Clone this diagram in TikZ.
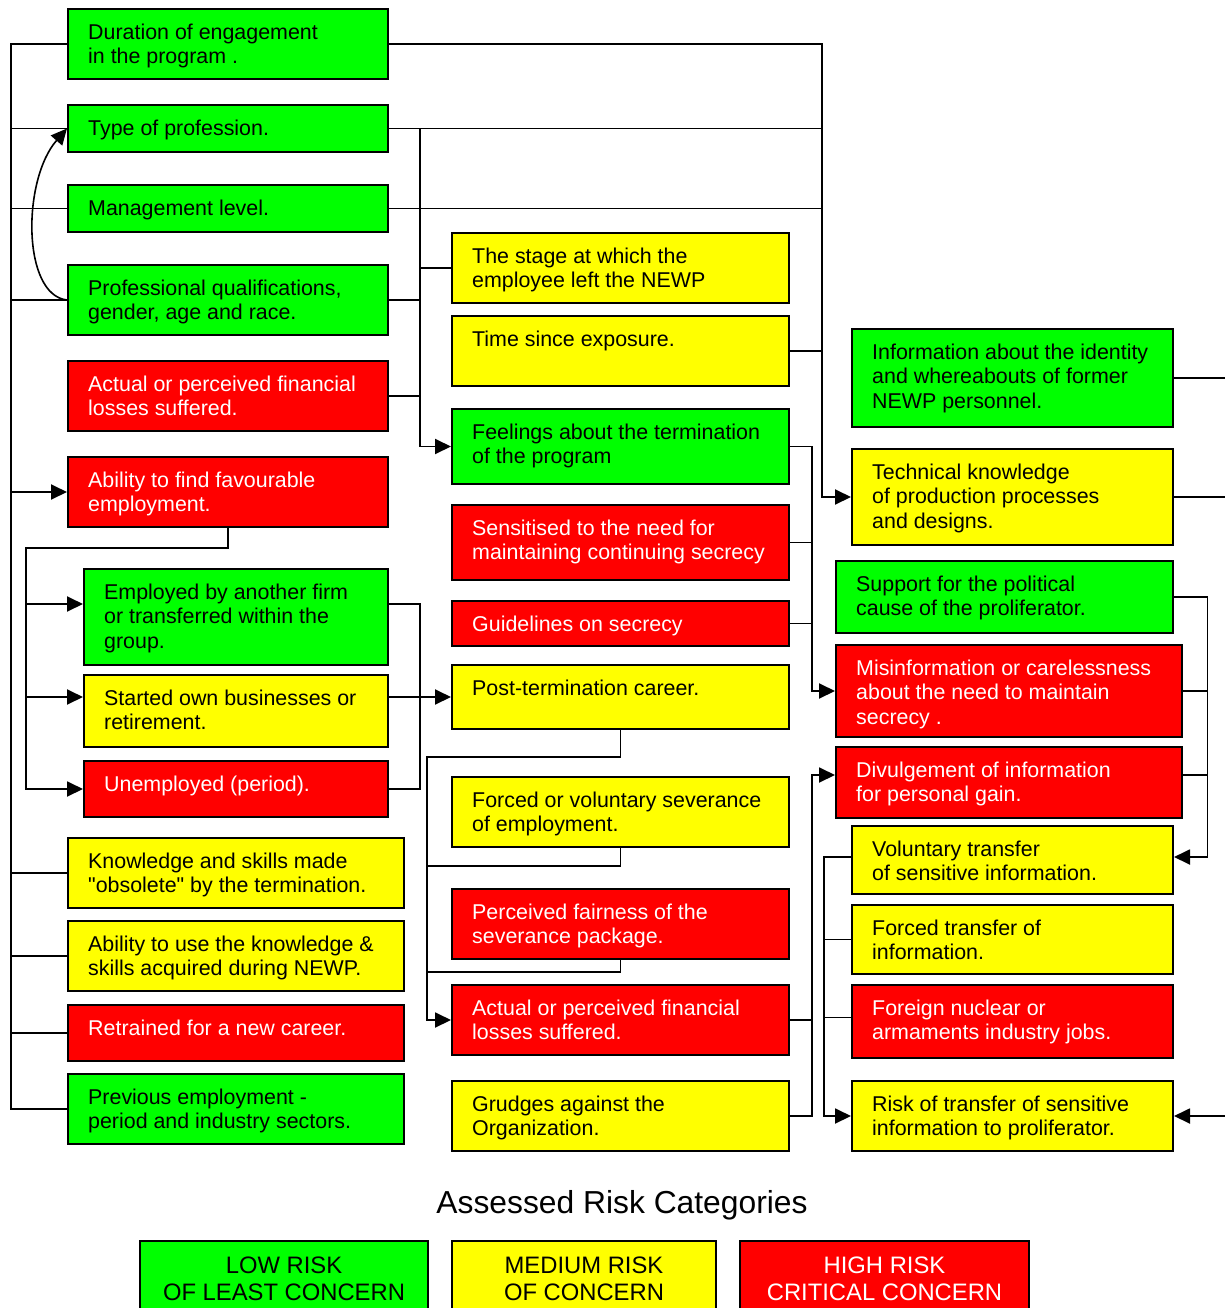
\documentclass[tikz,border=0pt]{standalone}
\usepackage{fontspec}
\setmainfont{Liberation Sans}[Ligatures=TeXOff]
\usetikzlibrary{arrows.meta,calc}

\definecolor{lowgreen}{RGB}{0,255,0}
\definecolor{midyellow}{RGB}{255,255,0}
\definecolor{highred}{RGB}{255,0,0}

% \riskbox{name}{x1}{y1}{x2}{y2}{low|mid|high}{text}
% coloured factor box with top-left aligned text
\newcommand{\riskbox}[7]{%
  \node[boxframe, #6 box, minimum width={(#4)-(#2)}, minimum height={(#5)-(#3)}]
    (#1) at ({((#2)+(#4))/2},{((#3)+(#5))/2}) {};
  \node[boxtext, #6 text] (#1-txt) at ([xshift=21pt,yshift=-12pt]#1.north west)
    {\rule{0pt}{19pt}#7};
}
% \legendbox{name}{x1}{x2}{low|mid|high}{text}
\newcommand{\legendbox}[5]{%
  \node[boxframe, #4 box, minimum width={(#3)-(#2)}, minimum height=90]
    (#1) at ({((#2)+(#3))/2},1286) {};
  \node[legendtext, #4 text] (#1-txt) at ({((#2)+(#3))/2},1255) {\rule{0pt}{18pt}#5};
}

\begin{document}
\begin{tikzpicture}[x=1pt,y=-1pt,
  boxframe/.style={draw=black, line width=2pt, rectangle, inner sep=0pt},
  low box/.style={fill=lowgreen},
  mid box/.style={fill=midyellow},
  high box/.style={fill=highred},
  low text/.style={text=black},
  mid text/.style={text=black},
  high text/.style={text=white},
  boxtext/.style={anchor=north west, inner sep=0pt, align=left,
    font=\fontsize{21.4pt}{24.5pt}\selectfont},
  legendtext/.style={anchor=north, inner sep=0pt, align=center,
    font=\fontsize{23.8pt}{27.5pt}\selectfont},
  wire/.style={line width=1.9pt, draw=black},
  feed/.style={wire, -{Triangle[length=16pt,width=15pt]}},
]
\useasboundingbox (0,0) rectangle (1225,1308);
\fill[white] (0,0) rectangle (1225,1308);

% ---- left column ----
\riskbox{dur}{68}{9}{388}{79}{low}{Duration of engagement\\in the program .}
\riskbox{typ}{68}{105}{388}{152}{low}{Type of profession.}
\riskbox{mgt}{68}{185}{388}{232}{low}{Management level.}
\riskbox{pqa}{68}{265}{388}{335}{low}{Professional qualifications,\\gender, age and race.}
\riskbox{alo}{68}{361}{388}{431}{high}{Actual or perceived financial\\losses suffered.}
\riskbox{afe}{68}{457}{388}{527}{high}{Ability to find favourable\\employment.}
\riskbox{emp}{84}{569}{388}{665}{low}{Employed by another firm\\or transferred within the\\group.}
\riskbox{own}{84}{675}{388}{747}{mid}{Started own businesses or\\retirement.}
\riskbox{une}{84}{761}{388}{817}{high}{Unemployed (period).}
\riskbox{kno}{68}{838}{404}{908}{mid}{Knowledge and skills made\\"obsolete" by the termination.}
\riskbox{abu}{68}{921}{404}{991}{mid}{Ability to use the knowledge \&\\skills acquired during NEWP.}
\riskbox{ret}{68}{1005}{404}{1061}{high}{Retrained for a new career.}
\riskbox{pre}{68}{1074}{404}{1144}{low}{Previous employment -\\period and industry sectors.}

% ---- middle column ----
\riskbox{stg}{452}{233}{789}{303}{mid}{The stage at which the\\employee left the NEWP}
\riskbox{tse}{452}{316}{789}{386}{mid}{Time since exposure.}
\riskbox{fee}{452}{409}{789}{484}{low}{Feelings about the termination\\of the program}
\riskbox{sen}{452}{505}{789}{580}{high}{Sensitised to the need for\\maintaining continuing secrecy}
\riskbox{gui}{452}{601}{789}{646}{high}{Guidelines on secrecy}
\riskbox{ptc}{452}{665}{789}{729}{mid}{Post-termination career.}
\riskbox{sev}{452}{777}{789}{847}{mid}{Forced or voluntary severance\\of employment.}
\riskbox{fai}{452}{889}{789}{959}{high}{Perceived fairness of the\\severance package.}
\riskbox{aml}{452}{985}{789}{1055}{high}{Actual or perceived financial\\losses suffered.}
\riskbox{gru}{452}{1081}{789}{1151}{mid}{Grudges against the\\Organization.}

% ---- right column ----
\riskbox{inf}{852}{329}{1173}{427}{low}{Information about the identity\\and whereabouts of former\\NEWP personnel.}
\riskbox{tec}{852}{449}{1173}{545}{mid}{Technical knowledge\\of production processes\\and designs.}
\riskbox{sup}{836}{561}{1173}{633}{low}{Support for the political\\cause of the proliferator.}
\riskbox{mis}{836}{645}{1182}{737}{high}{Misinformation or carelessness\\about the need to maintain\\secrecy .}
\riskbox{div}{836}{747}{1182}{818}{high}{Divulgement of information\\for personal gain.}
\riskbox{vol}{852}{826}{1173}{894}{mid}{Voluntary transfer\\of sensitive information.}
\riskbox{ftr}{852}{905}{1173}{974}{mid}{Forced transfer of\\information.}
\riskbox{fnj}{852}{985}{1173}{1058}{high}{Foreign nuclear or\\armaments industry jobs.}
\riskbox{rsk}{852}{1081}{1173}{1151}{mid}{Risk of transfer of sensitive\\information to proliferator.}

% ---- legend ----
\node[font=\fontsize{31.8pt}{36pt}\selectfont, anchor=base, inner sep=0pt]
  (legendtitle) at (622,1213) {Assessed Risk Categories};
\legendbox{lgl}{140}{428}{low}{LOW RISK\\OF LEAST CONCERN}
\legendbox{lgm}{452}{716}{mid}{MEDIUM RISK\\OF CONCERN}
\legendbox{lgh}{740}{1029}{high}{HIGH RISK\\CRITICAL CONCERN}

% ---- bus positions and ports ----
\coordinate (lbus) at (11,0);
\coordinate (ebus) at (26,0);
\coordinate (mbus) at (420,0);
\coordinate (pbus) at (427,0);
\coordinate (qbus) at (812,0);
\coordinate (rbus) at (822,0);
\coordinate (tbus) at (824,0);
\coordinate (sbus) at (1207.5,0);
\coordinate (edge) at (1227,0);
\coordinate (empIn)  at ([yshift=13pt]emp.west);
\coordinate (empOut) at ([yshift=13pt]emp.east);
\coordinate (ownIn)  at ([yshift=14pt]own.west);
\coordinate (ownOut) at ([yshift=14pt]own.east);
\coordinate (divIn)  at ([yshift=7.5pt]div.west);
\coordinate (divOut) at ([yshift=7.5pt]div.east);
\coordinate (volIn)  at ([yshift=3pt]vol.east);
\coordinate (volOut) at ([yshift=3pt]vol.west);
\coordinate (fnjOut) at ([yshift=4pt]fnj.west);
\coordinate (afeKnee) at (228,548);
\coordinate (ptcKnee) at (620.5,757);
\coordinate (sevKnee) at (620.5,866);
\coordinate (faiKnee) at (620.5,972);

% left bus into "Ability to find favourable employment"
\draw[wire] (dur.west) -- (dur.west -| lbus) -- (pre.west -| lbus) -- (pre.west);
\foreach \n in {typ,mgt,pqa,kno,abu,ret}
  \draw[wire] (\n.west) -- (\n.west -| lbus);
\draw[feed] (afe.west -| lbus) -- (afe.west);
\draw[feed, line width=1.6pt] (pqa.west) .. controls (22,295) and (22,180) .. (typ.west);

% employment outcomes
\draw[feed] (afe.south) -- (afeKnee) -- (afeKnee -| ebus) -- (une.west -| ebus) -- (une.west);
\draw[feed] (empIn -| ebus) -- (empIn);
\draw[feed] (ownIn -| ebus) -- (ownIn);
\draw[wire] (empOut) -- (empOut -| mbus) -- (une.east -| mbus) -- (une.east);
\draw[feed] (ownOut) -- (ptc.west);

% into "Technical knowledge"
\draw[feed] (dur.east) -- (dur.east -| rbus) -- (tec.west -| rbus) -- (tec.west);
\draw[wire] (typ.east) -- (typ.east -| rbus);
\draw[wire] (mgt.east) -- (mgt.east -| rbus);
\draw[wire] (tse.east) -- (tse.east -| rbus);

% into "Feelings about the termination"
\draw[feed] (typ.east -| mbus) -- (fee.west -| mbus) -- (fee.west);
\draw[wire] (pqa.east) -- (pqa.east -| mbus);
\draw[wire] (stg.west -| mbus) -- (stg.west);
\draw[wire] (alo.east) -- (alo.east -| mbus);

% into the second "Actual or perceived financial losses"
\draw[feed] (ptc.south) -- (ptcKnee) -- (ptcKnee -| pbus) -- (aml.west -| pbus) -- (aml.west);
\draw[wire] (sev.south) -- (sevKnee) -- (sevKnee -| pbus);
\draw[wire] (fai.south) -- (faiKnee) -- (faiKnee -| pbus);

% into "Misinformation or carelessness"
\draw[feed] (fee.east) -- (fee.east -| qbus) -- (mis.west -| qbus) -- (mis.west);
\draw[wire] (sen.east) -- (sen.east -| qbus);
\draw[wire] (gui.east) -- (gui.east -| qbus);

% into "Divulgement of information"
\draw[feed] (gru.east) -- (gru.east -| qbus) -- (divIn -| qbus) -- (divIn);
\draw[wire] (aml.east) -- (aml.east -| qbus);

% into "Voluntary transfer"
\draw[feed] (sup.east) -- (sup.east -| sbus) -- (volIn -| sbus) -- (volIn);
\draw[wire] (mis.east) -- (mis.east -| sbus);
\draw[wire] (divOut) -- (divOut -| sbus);

% into "Risk of transfer"
\draw[feed] (volOut) -- (volOut -| tbus) -- (rsk.west -| tbus) -- (rsk.west);
\draw[wire] (ftr.west) -- (ftr.west -| tbus);
\draw[wire] (fnjOut) -- (fnjOut -| tbus);

% links leaving the right edge
\draw[wire] (inf.east) -- (inf.east -| edge);
\draw[wire] (tec.east) -- (tec.east -| edge);
\draw[feed] (rsk.east -| edge) -- (rsk.east);
\end{tikzpicture}
\end{document}
